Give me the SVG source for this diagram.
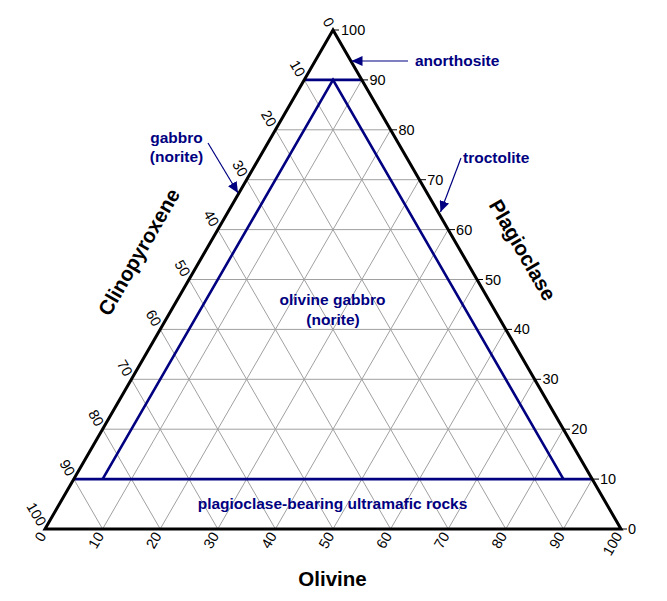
<svg xmlns="http://www.w3.org/2000/svg" width="667" height="601" viewBox="0 0 667 601">
<defs>
<style>
.grid{stroke:#a0a0a0;stroke-width:1;fill:none}
.frame{stroke:#000;stroke-width:3;fill:none;stroke-linejoin:miter}
.field{stroke:#000080;stroke-width:2.6;fill:none;stroke-linejoin:miter}
.tick{font-family:"Liberation Sans",Arial,sans-serif;font-size:14.5px;fill:#000}
.ticklen{stroke:#000;stroke-width:1}
.lbl{font-family:"Liberation Sans",Arial,sans-serif;font-size:15.5px;font-weight:bold;fill:#000080}
.axis{font-family:"Liberation Sans",Arial,sans-serif;font-size:20.5px;font-weight:bold;fill:#000}
.ptr{stroke:#000080;stroke-width:1.2;fill:none;marker-end:url(#ah)}
</style>
<marker id="ah" markerWidth="12" markerHeight="10" refX="11" refY="5" orient="auto" markerUnits="userSpaceOnUse">
<path d="M0,0 L11,5 L0,10 Z" fill="#000080"/>
</marker>
</defs>
<rect width="667" height="601" fill="#fff"/>
<g id="grid">
<line class="grid" x1="73.8" y1="479.1" x2="592.2" y2="479.1"/>
<line class="grid" x1="102.6" y1="429.2" x2="563.4" y2="429.2"/>
<line class="grid" x1="131.4" y1="379.3" x2="534.6" y2="379.3"/>
<line class="grid" x1="160.2" y1="329.4" x2="505.8" y2="329.4"/>
<line class="grid" x1="189" y1="279.5" x2="477" y2="279.5"/>
<line class="grid" x1="217.8" y1="229.6" x2="448.2" y2="229.6"/>
<line class="grid" x1="246.6" y1="179.7" x2="419.4" y2="179.7"/>
<line class="grid" x1="275.4" y1="129.8" x2="390.6" y2="129.8"/>
<line class="grid" x1="304.2" y1="79.9" x2="361.8" y2="79.9"/>
<line class="grid" x1="102.6" y1="529" x2="361.8" y2="79.9"/>
<line class="grid" x1="160.2" y1="529" x2="390.6" y2="129.8"/>
<line class="grid" x1="217.8" y1="529" x2="419.4" y2="179.7"/>
<line class="grid" x1="275.4" y1="529" x2="448.2" y2="229.6"/>
<line class="grid" x1="333" y1="529" x2="477" y2="279.5"/>
<line class="grid" x1="390.6" y1="529" x2="505.8" y2="329.4"/>
<line class="grid" x1="448.2" y1="529" x2="534.6" y2="379.3"/>
<line class="grid" x1="505.8" y1="529" x2="563.4" y2="429.2"/>
<line class="grid" x1="563.4" y1="529" x2="592.2" y2="479.1"/>
<line class="grid" x1="102.6" y1="529" x2="73.8" y2="479.1"/>
<line class="grid" x1="160.2" y1="529" x2="102.6" y2="429.2"/>
<line class="grid" x1="217.8" y1="529" x2="131.4" y2="379.3"/>
<line class="grid" x1="275.4" y1="529" x2="160.2" y2="329.4"/>
<line class="grid" x1="333" y1="529" x2="189" y2="279.5"/>
<line class="grid" x1="390.6" y1="529" x2="217.8" y2="229.6"/>
<line class="grid" x1="448.2" y1="529" x2="246.6" y2="179.7"/>
<line class="grid" x1="505.8" y1="529" x2="275.4" y2="129.8"/>
<line class="grid" x1="563.4" y1="529" x2="304.2" y2="79.9"/>
</g>
<g id="fields">
<line class="field" x1="304.2" y1="79.9" x2="361.8" y2="79.9"/>
<line class="field" x1="73.8" y1="479.1" x2="592.2" y2="479.1"/>
<polyline class="field" points="102.6,479.1 333,79.9 563.4,479.1"/>
</g>
<g id="triangle">
<polygon class="frame" points="333,30 45,529 621,529"/>
</g>
<g id="ticks-right">
<line class="ticklen" x1="333" y1="30" x2="339" y2="30"/><text class="tick" x="341" y="35">100</text>
<line class="ticklen" x1="361.8" y1="79.9" x2="368" y2="79.9"/><text class="tick" x="369.5" y="84.9">90</text>
<line class="ticklen" x1="390.6" y1="129.8" x2="397" y2="129.8"/><text class="tick" x="398.5" y="134.8">80</text>
<line class="ticklen" x1="419.4" y1="179.7" x2="426" y2="179.7"/><text class="tick" x="427.3" y="184.7">70</text>
<line class="ticklen" x1="448.2" y1="229.6" x2="455" y2="229.6"/><text class="tick" x="456.1" y="234.6">60</text>
<line class="ticklen" x1="477" y1="279.5" x2="483" y2="279.5"/><text class="tick" x="484.9" y="284.5">50</text>
<line class="ticklen" x1="505.8" y1="329.4" x2="512" y2="329.4"/><text class="tick" x="513.7" y="334.4">40</text>
<line class="ticklen" x1="534.6" y1="379.3" x2="541" y2="379.3"/><text class="tick" x="542.5" y="384.3">30</text>
<line class="ticklen" x1="563.4" y1="429.2" x2="570" y2="429.2"/><text class="tick" x="571.3" y="434.2">20</text>
<line class="ticklen" x1="592.2" y1="479.1" x2="599" y2="479.1"/><text class="tick" x="600" y="484.1">10</text>
<line class="ticklen" x1="621" y1="529" x2="627" y2="529"/><text class="tick" x="628" y="534">0</text>
</g>
<g id="ticks-left" class="tick" text-anchor="end">
<text transform="translate(333,30) rotate(60)" x="-5" y="5">0</text>
<text transform="translate(304.2,79.9) rotate(60)" x="-5" y="5">10</text>
<text transform="translate(275.4,129.8) rotate(60)" x="-5" y="5">20</text>
<text transform="translate(246.6,179.7) rotate(60)" x="-5" y="5">30</text>
<text transform="translate(217.8,229.6) rotate(60)" x="-5" y="5">40</text>
<text transform="translate(189,279.5) rotate(60)" x="-5" y="5">50</text>
<text transform="translate(160.2,329.4) rotate(60)" x="-5" y="5">60</text>
<text transform="translate(131.4,379.3) rotate(60)" x="-5" y="5">70</text>
<text transform="translate(102.6,429.2) rotate(60)" x="-5" y="5">80</text>
<text transform="translate(73.8,479.1) rotate(60)" x="-5" y="5">90</text>
<text transform="translate(45,529) rotate(60)" x="-5" y="5">100</text>
</g>
<g id="ticks-bottom" class="tick" text-anchor="end">
<text transform="translate(45,529) rotate(-60)" x="-5" y="5">0</text>
<text transform="translate(102.6,529) rotate(-60)" x="-5" y="5">10</text>
<text transform="translate(160.2,529) rotate(-60)" x="-5" y="5">20</text>
<text transform="translate(217.8,529) rotate(-60)" x="-5" y="5">30</text>
<text transform="translate(275.4,529) rotate(-60)" x="-5" y="5">40</text>
<text transform="translate(333,529) rotate(-60)" x="-5" y="5">50</text>
<text transform="translate(390.6,529) rotate(-60)" x="-5" y="5">60</text>
<text transform="translate(448.2,529) rotate(-60)" x="-5" y="5">70</text>
<text transform="translate(505.8,529) rotate(-60)" x="-5" y="5">80</text>
<text transform="translate(563.4,529) rotate(-60)" x="-5" y="5">90</text>
<text transform="translate(621,529) rotate(-60)" x="-5" y="5">100</text>
</g>
<g id="axis-titles" class="axis" text-anchor="middle">
<text id="clinopyroxene" transform="translate(139,252) rotate(-60)" x="0" y="7">Clinopyroxene</text>
<text id="plagioclase" transform="translate(522.5,250) rotate(60)" x="0" y="7">Plagioclase</text>
<text id="olivine" x="332.5" y="586">Olivine</text>
</g>
<g id="connectors">
<line class="ptr" x1="408" y1="61" x2="351.5" y2="61"/>
<line class="ptr" x1="208" y1="143" x2="238" y2="193"/>
<line class="ptr" x1="461" y1="158" x2="440.5" y2="212"/>
</g>
<g id="anorthosite"><text class="lbl" x="415" y="66">anorthosite</text></g>
<g id="gabbro"><text class="lbl" x="176.5" y="143" text-anchor="middle">gabbro</text><text class="lbl" x="176.5" y="162" text-anchor="middle">(norite)</text></g>
<g id="troctolite"><text class="lbl" x="463" y="163">troctolite</text></g>
<g id="olivine-gabbro"><text class="lbl" x="332.5" y="305" text-anchor="middle">olivine gabbro</text><text class="lbl" x="333" y="325" text-anchor="middle">(norite)</text></g>
<g id="ultramafic"><text class="lbl" x="332.5" y="508.5" text-anchor="middle">plagioclase-bearing ultramafic rocks</text></g>
</svg>
